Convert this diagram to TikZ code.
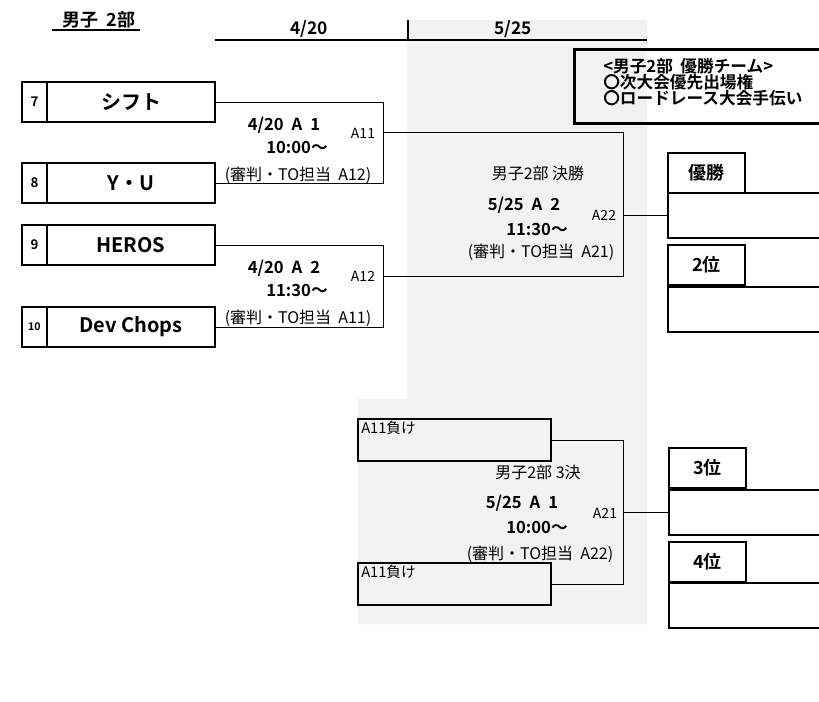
\documentclass[tikz,border=0pt]{standalone}
\usepackage{fontspec}
\setmainfont{Noto Sans CJK JP}[BoldFont={Noto Sans CJK JP Bold}]
\definecolor{bggray}{HTML}{F2F2F2}
\newcommand{\gp}{\hspace{6pt}}
\tikzset{
  px/.style={x=0.75pt,y=-0.75pt},
  teamcell/.style={draw,line width=1.1pt,anchor=north west,inner sep=0pt,outer sep=0pt,minimum width=126pt,minimum height=30pt,font=\bfseries\fontsize{15}{17}\selectfont},
  numcell/.style={draw,line width=1.1pt,anchor=north west,inner sep=0pt,outer sep=0pt,minimum width=18.75pt,minimum height=30pt,font=\bfseries\fontsize{10}{12}\selectfont},
  ranktab/.style={draw,line width=2.2pt,anchor=north west,inner sep=0pt,outer sep=0pt,minimum width=57.75pt,minimum height=30pt,font=\bfseries\fontsize{13.5}{15}\selectfont},
  rankbox/.style={draw,line width=2.2pt,anchor=north west,inner sep=0pt,outer sep=0pt,minimum width=117.75pt,minimum height=33.75pt},
  losebox/.style={draw,line width=0.9pt,fill=bggray,anchor=north west,inner sep=0pt,outer sep=0pt,minimum width=144.75pt,minimum height=31.5pt},
  br/.style={line width=0.75pt},
  boldlab/.style={inner sep=0pt,font=\bfseries\fontsize{12.5}{14}\selectfont},
  smlab/.style={inner sep=0pt,font=\fontsize{12}{14}\selectfont},
  codelab/.style={inner sep=0pt,font=\fontsize{10.5}{12}\selectfont},
}
\begin{document}
\begin{tikzpicture}[px]
\useasboundingbox (0,0) rectangle (819,701);
% gray background
\fill[bggray] (407,20) -- (647,20) -- (647,624) -- (358,624) -- (358,399) -- (407,399) -- cycle;
% title and header
\node[inner sep=0pt,font=\bfseries\fontsize{13.5}{15}\selectfont] (title) at (99,20) {男子\ \ 2部};
\draw[line width=0.9pt] (52,30) -- (140,30);
\coordinate (hl) at (215,40);
\coordinate (hr) at (647,40);
\draw[line width=0.9pt] (hl) -- (hr);
\coordinate (vt) at (408,20);
\coordinate (vb) at (408,40);
\draw[line width=0.9pt] (vt) -- (vb);
\node[inner sep=0pt,font=\bfseries\fontsize{13}{15}\selectfont] (d1) at (309,29) {4/20};
\node[inner sep=0pt,font=\bfseries\fontsize{13}{15}\selectfont] (d2) at (513,29) {5/25};
% info box
\node[draw,line width=2.2pt,anchor=north west,minimum width=189pt,minimum height=55.5pt,inner sep=0pt] (info) at (573,48) {};
\node[anchor=west,align=left,inner sep=0pt,font=\bfseries\fontsize{12.5}{12}\selectfont] (infotxt) at (603,82) {<男子2部\ \ 優勝チーム>\\〇次大会優先出場権\\〇ロードレース大会手伝い};
% teams
\node[numcell] (n7) at (22,82) {7};
\node[teamcell] (t7) at (47,82) {シフト};
\node[numcell] (n8) at (22,163) {8};
\node[teamcell] (t8) at (47,163) {Y・U};
\node[numcell] (n9) at (22,225) {9};
\node[teamcell] (t9) at (47,225) {HEROS};
\node[numcell,font=\bfseries\fontsize{8}{10}\selectfont] (n10) at (22,307) {10};
\node[teamcell] (t10) at (47,307) {Dev Chops};
% bracket columns
\coordinate (c1) at (383,0);
\coordinate (cf) at (623,0);
\coordinate (w11) at (383,132);
\coordinate (w12) at (383,276);
\draw[br] (t7.east) -- (t7.east -| c1) -- (t8.east -| c1) -- (t8.east);
\draw[br] (t9.east) -- (t9.east -| c1) -- (t10.east -| c1) -- (t10.east);
\draw[br] (w11) -- (w11 -| cf) -- (w12 -| cf) -- (w12);
% match 1 labels
\node[boldlab] (m1a) at (284,125) {4/20\gp A\gp 1};
\node[boldlab] (m1b) at (297,147) {10:00〜};
\node[smlab] (m1c) at (298,175) {(審判・TO担当\ \ A12)};
\node[codelab] (m1d) at (363,133) {A11};
% match 2 labels
\node[boldlab] (m2a) at (284,268) {4/20\gp A\gp 2};
\node[boldlab] (m2b) at (297,290) {11:30〜};
\node[smlab] (m2c) at (298,318) {(審判・TO担当\ \ A11)};
\node[codelab] (m2d) at (363,276) {A12};
% final labels
\node[smlab] (f1) at (538,173) {男子2部 決勝};
\node[boldlab] (f2) at (524,205) {5/25\gp A\gp 2};
\node[boldlab] (f3) at (537,229) {11:30〜};
\node[smlab] (f4) at (541,252) {(審判・TO担当\ \ A21)};
\node[codelab] (f5) at (604,215) {A22};
% rank boxes
\node[ranktab] (r1t) at (668,153) {優勝};
\node[rankbox] (r1b) at (668,193) {};
\node[ranktab] (r2t) at (668,245) {2位};
\node[rankbox] (r2b) at (668,287) {};
\node[ranktab] (r3t) at (669,448) {3位};
\node[rankbox] (r3b) at (669,490) {};
\node[ranktab] (r4t) at (669,542) {4位};
\node[rankbox] (r4b) at (669,583) {};
\draw[br] (r1b.west -| cf) -- (r1b.west);
% third place
\node[losebox] (l1) at (358,419) {};
\node[losebox] (l2) at (358,563) {};
\node[inner sep=0pt,font=\fontsize{11}{12}\selectfont,anchor=north west] (l1t) at (361,421) {A11負け};
\node[inner sep=0pt,font=\fontsize{11}{12}\selectfont,anchor=north west] (l2t) at (361,565) {A11負け};
\draw[br] (l1.east) -- (l1.east -| cf) -- (l2.east -| cf) -- (l2.east);
\draw[br] (r3b.west -| cf) -- (r3b.west);
\node[smlab] (s1) at (538,472) {男子2部 3決};
\node[boldlab] (s2) at (522,503) {5/25\gp A\gp 1};
\node[boldlab] (s3) at (537,527) {10:00〜};
\node[smlab] (s4) at (540,554) {(審判・TO担当\ \ A22)};
\node[codelab] (s5) at (605,513) {A21};
\end{tikzpicture}
\end{document}
